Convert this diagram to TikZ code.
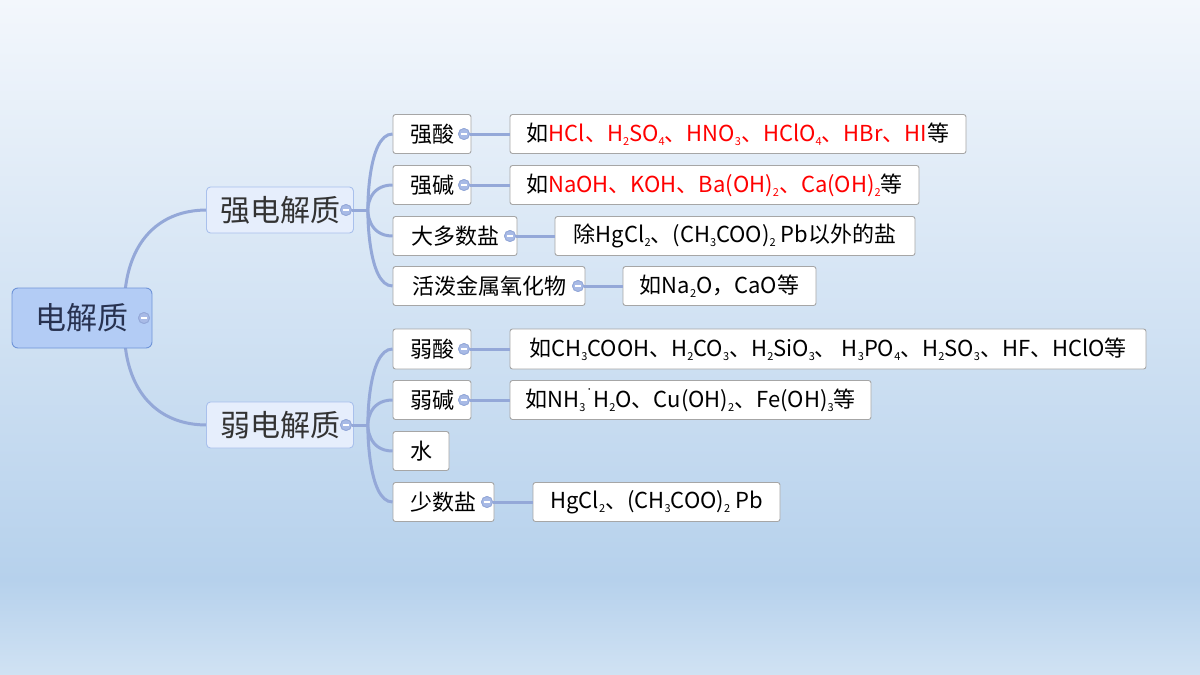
\documentclass[tikz,border=0pt]{standalone}
\usepackage{fontspec}
\setmainfont{Noto Sans CJK SC}
\begin{document}
\newcommand{\sbb}[1]{\raisebox{-0.35ex}{\fontsize{11}{11}\selectfont #1}}
\begin{tikzpicture}[x=1pt,y=-1pt,
  conn/.style={draw=lineC,line width=3pt},
  box/.style={draw=gray!70,fill=white,rounded corners=2.5pt,inner sep=0pt,line width=0.9pt,font=\fontsize{22}{24}\selectfont},
  mid/.style={draw=midB,fill=midF,rounded corners=4pt,inner sep=0pt,line width=0.9pt,font=\fontsize{30}{32}\selectfont,text=black!80},
  mn/.style={circle,draw=lineC,fill=minF,minimum size=11pt,inner sep=0pt,line width=0.8pt,path picture={\draw[white,line width=1.8pt] ([xshift=-3pt]path picture bounding box.center)--([xshift=3pt]path picture bounding box.center);}}]
\definecolor{lineC}{HTML}{94A8D8}
\definecolor{midB}{HTML}{A9C0EC}
\definecolor{midF}{HTML}{E6EEFC}
\definecolor{minF}{HTML}{A8BAE6}
\definecolor{rootF}{HTML}{B3CCF5}
\definecolor{rootB}{HTML}{6F94D8}
\useasboundingbox (0,0) rectangle (1200,675);
\shade[top color={rgb,255:red,243;green,247;blue,252}, bottom color={rgb,255:red,182;green,209;blue,236}] (0,0) rectangle (1200,580);
\shade[top color={rgb,255:red,182;green,209;blue,236}, bottom color={rgb,255:red,208;green,226;blue,243}] (0,579.5) rectangle (1200,675);
% connectors from root (drawn first, under nodes)
\coordinate (rt) at (125,292);
\coordinate (rb) at (125,344);
\coordinate (sl) at (207,210);
\coordinate (wl) at (207,425);
\draw[conn] (rt) .. controls (130,240) and (160,210) .. (sl);
\draw[conn] (rb) .. controls (130,395) and (160,425) .. (wl);
% nodes
\node[draw=rootB,fill=rootF,rounded corners=6pt,line width=0.9pt,minimum width=140pt,minimum height=60pt,font=\fontsize{31}{33}\selectfont,text={rgb,255:red,40;green,50;blue,80},inner sep=0pt] (root) at (82,318) {电解质\hspace{12pt}};
\node[mid,minimum width=147pt,minimum height=46pt] (s) at (280,210) {强电解质\hspace{10pt}};
\node[mid,minimum width=147pt,minimum height=46pt] (w) at (280,425) {弱电解质\hspace{10pt}};
\node[box,minimum width=78pt,minimum height=39pt] (a1) at (432,134) {强酸\hspace{10pt}};
\node[box,minimum width=78pt,minimum height=39pt] (a2) at (432,185) {强碱\hspace{10pt}};
\node[box,minimum width=124pt,minimum height=39pt] (a3) at (455,236) {大多数盐\hspace{10pt}};
\node[box,minimum width=192pt,minimum height=39pt] (a4) at (489,286) {活泼金属氧化物\hspace{10pt}};
\node[box,minimum width=78pt,minimum height=40pt] (b1) at (432,349) {弱酸\hspace{10pt}};
\node[box,minimum width=78pt,minimum height=39pt] (b2) at (432,400) {弱碱\hspace{10pt}};
\node[box,minimum width=56pt,minimum height=39pt] (b3) at (421,451) {水\hspace{6pt}};
\node[box,minimum width=101pt,minimum height=39pt] (b4) at (443.5,502) {少数盐\hspace{10pt}};
\node[box,minimum width=456pt,minimum height=39pt] (l1) at (738,134) {如\textcolor{red}{HCl、H\sbb{2}SO\sbb{4}、HNO\sbb{3}、HClO\sbb{4}、HBr、HI}等};
\node[box,minimum width=409pt,minimum height=39pt] (l2) at (714.5,185) {如\textcolor{red}{NaOH、KOH、Ba(OH)\sbb{2}、Ca(OH)\sbb{2}}等};
\node[box,minimum width=360pt,minimum height=39pt] (l3) at (735,236) {除HgCl\sbb{2}、(CH\sbb{3}COO)\sbb{2} Pb以外的盐};
\node[box,minimum width=193pt,minimum height=39pt] (l4) at (719.5,286) {如Na\sbb{2}O，CaO等};
\node[box,minimum width=636pt,minimum height=40pt] (m1) at (828,349) {如CH\sbb{3}COOH、H\sbb{2}CO\sbb{3}、H\sbb{2}SiO\sbb{3}、 H\sbb{3}PO\sbb{4}、H\sbb{2}SO\sbb{3}、HF、HClO等};
\node[box,minimum width=361pt,minimum height=39pt] (m2) at (690.5,400) {如NH\sbb{3}\raisebox{1.2ex}{\fontsize{8}{8}\selectfont·}H\sbb{2}O、Cu(OH)\sbb{2}、Fe(OH)\sbb{3}等};
\node[box,minimum width=247pt,minimum height=39pt] (m4) at (656.5,502) {HgCl\sbb{2}、(CH\sbb{3}COO)\sbb{2} Pb};
% minus markers
\node[mn] (rm) at (144,318) {};
\node[mn] (sm) at (346,210) {};
\node[mn] (wm) at (346,425) {};
\node[mn] (a1m) at (464,134) {};
\node[mn] (a2m) at (464,185) {};
\node[mn] (a3m) at (510,236) {};
\node[mn] (a4m) at (578,286) {};
\node[mn] (b1m) at (464,349) {};
\node[mn] (b2m) at (464,400) {};
\node[mn] (b4m) at (487,502) {};
\coordinate (sj) at (368,210);
\coordinate (wj) at (368,425);
\draw[conn] (sm.east) -- (sj);
\draw[conn] (wm.east) -- (wj);
\foreach \n in {a1,a2,a3,a4}{\draw[conn] (sj) .. controls ([xshift=-25pt]\n.west |- sj) and ([xshift=-25pt]\n.west) .. (\n.west);}
\foreach \n in {b1,b2,b3,b4}{\draw[conn] (wj) .. controls ([xshift=-25pt]\n.west |- wj) and ([xshift=-25pt]\n.west) .. (\n.west);}
\draw[conn] (a1m.east) -- (l1.west);
\draw[conn] (a2m.east) -- (l2.west);
\draw[conn] (a3m.east) -- (l3.west);
\draw[conn] (a4m.east) -- (l4.west);
\draw[conn] (b1m.east) -- (m1.west);
\draw[conn] (b2m.east) -- (m2.west);
\draw[conn] (b4m.east) -- (m4.west);
\foreach \m in {rm,sm,wm,a1m,a2m,a3m,a4m,b1m,b2m,b4m}{\node[mn] at (\m) {};}
\end{tikzpicture}
\end{document}
